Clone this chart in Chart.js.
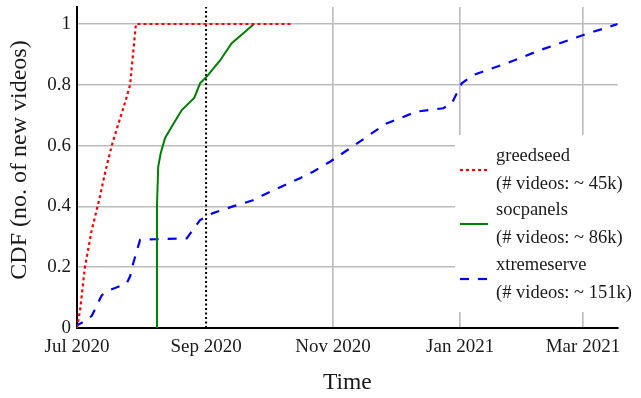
<!DOCTYPE html>
<html>
<head>
<meta charset="utf-8">
<script src="https://cdn.jsdelivr.net/npm/chart.js@4.4.1/dist/chart.umd.min.js"></script>
<style>
  html, body { margin: 0; padding: 0; background: #fff; }
  #wrap { width: 641px; height: 398px; }
</style>
</head>
<body>
<div id="wrap"><canvas id="cdfChart"></canvas></div>
<script>
// x values are days since 1 Jul 2020
const xTickDays = [0, 62, 123, 184, 243];
const xTickLabels = ['Jul 2020', 'Sep 2020', 'Nov 2020', 'Jan 2021', 'Mar 2021'];
const yTicks = [0, 0.2, 0.4, 0.6, 0.8, 1];
const yTickLabels = ['0', '0.2', '0.4', '0.6', '0.8', '1'];

const greedDays = [0, 1.5, 3.8, 7, 10.6, 13.8, 16.7, 19.8, 23, 25.5, 28.3, 103.7];
const greedCdf  = [0, 0.06, 0.2, 0.32, 0.42, 0.52, 0.6, 0.67, 0.74, 0.8, 1.0, 1.0];

const socDays = [38.3, 38.4, 39.0, 40.2, 42.3, 46.2, 50.3, 56.3, 59.1, 62.3, 68.7, 74.3, 79.9, 85.0];
const socCdf  = [0, 0.4, 0.53, 0.575, 0.625, 0.67, 0.717, 0.757, 0.805, 0.827, 0.88, 0.937, 0.97, 1.0];

const xtremeDays = [0, 0.2, 2.3, 7.1, 11.9, 15.9, 23.9, 25.5, 27, 30.3, 37.5, 52.7, 59.1, 65.3, 74.9, 84.5,
                    89.3, 98.9, 107.1, 113.4, 121.5, 133.5, 141.5, 148.7, 163.2, 175.9, 180, 184.8, 190.2,
                    206.4, 222.4, 243.2, 259.7];
const xtremeCdf  = [0, 0.01, 0.017, 0.04, 0.108, 0.125, 0.147, 0.17, 0.213, 0.29, 0.292, 0.295, 0.355, 0.378, 0.40, 0.42,
                    0.437, 0.467, 0.493, 0.514, 0.547, 0.602, 0.64, 0.673, 0.712, 0.723, 0.739, 0.805, 0.832,
                    0.871, 0.914, 0.964, 1.0];

const seriesNames = ['greedseed', 'socpanels', 'xtremeserve'];
const seriesNotes = ['(# videos: ~ 45k)', '(# videos: ~ 86k)', '(# videos: ~ 151k)'];

const markerDay = 62; // 1 Sep 2020
const yMax = 1.056;
const xMax = 259.7;

const SERIF = '"Liberation Serif", "DejaVu Serif", serif';
const INK = '#1a1a1a';

function toPoints(xs, ys) {
    return xs.map((x, i) => ({ x: x, y: ys[i] }));
}

// legend with two lines per entry on a white box over the grid, plus the y title
const legendBox = {
    id: 'legendBox',
    afterDatasetsDraw(chart) {
        const ctx = chart.ctx;
        ctx.save();
        ctx.fillStyle = '#fff';
        ctx.fillRect(455, 135, 186, 177);
        const tops = [156, 210, 265];
        ctx.font = '18.5px ' + SERIF;
        ctx.textBaseline = 'middle';
        ctx.textAlign = 'left';
        for (let i = 0; i < 3; i++) {
            const ds = chart.data.datasets[i];
            const y = tops[i];
            ctx.fillStyle = INK;
            ctx.fillText(seriesNames[i], 496, y);
            ctx.fillText(seriesNotes[i], 496, y + 28);
            ctx.strokeStyle = ds.borderColor;
            ctx.lineWidth = ds.borderWidth;
            ctx.setLineDash(ds.borderDash || []);
            ctx.beginPath();
            ctx.moveTo(460, y + 14);
            ctx.lineTo(488, y + 14);
            ctx.stroke();
        }
        ctx.setLineDash([]);
        ctx.translate(20, 160);
        ctx.rotate(-Math.PI / 2);
        ctx.textAlign = 'center';
        ctx.font = '24px ' + SERIF;
        ctx.fillText('CDF (no. of new videos)', 0, 0);
        ctx.restore();
    }
};

document.addEventListener('DOMContentLoaded', function () {
    const ctx = document.getElementById('cdfChart').getContext('2d');
    new Chart(ctx, {
        type: 'line',
        data: {
            datasets: [{
                label: seriesNames[0],
                data: toPoints(greedDays, greedCdf),
                borderColor: '#ff0000',
                borderWidth: 2.2,
                borderDash: [3, 3]
            }, {
                label: seriesNames[1],
                data: toPoints(socDays, socCdf),
                borderColor: '#008000',
                borderWidth: 2
            }, {
                label: seriesNames[2],
                data: toPoints(xtremeDays, xtremeCdf),
                borderColor: '#0000ff',
                borderWidth: 2.2,
                borderDash: [9, 9]
            }, {
                label: 'marker',
                data: [{ x: markerDay, y: 0 }, { x: markerDay, y: yMax }],
                borderColor: '#000',
                borderWidth: 2,
                borderDash: [2, 2.5]
            }]
        },
        options: {
            responsive: true,
            maintainAspectRatio: false,
            animation: false,
            layout: { padding: { top: 7, right: 23.3, left: 0, bottom: 0 } },
            elements: {
                point: { radius: 0 },
                line: { tension: 0, fill: false }
            },
            plugins: {
                legend: { display: false },
                tooltip: { enabled: false }
            },
            scales: {
                x: {
                    type: 'linear',
                    min: 0,
                    max: xMax,
                    afterFit: s => { s.height = 70; s.paddingLeft = 0; s.paddingRight = 0; },
                    afterBuildTicks: s => { s.ticks = xTickDays.map(v => ({ value: v })); },
                    border: { color: '#000', width: 2 },
                    grid: {
                        drawTicks: false,
                        lineWidth: 1.6,
                        color: c => (c.index >= 2 ? '#bbbbbb' : 'rgba(0,0,0,0)')
                    },
                    ticks: {
                        autoSkip: false,
                        maxRotation: 0,
                        padding: 8,
                        color: INK,
                        font: { family: SERIF, size: 19 },
                        callback: (v, i) => xTickLabels[i]
                    },
                    title: {
                        display: true,
                        text: 'Time',
                        color: INK,
                        font: { family: SERIF, size: 23.5 },
                        padding: { top: 0, bottom: 1 }
                    }
                },
                y: {
                    min: 0,
                    max: yMax,
                    afterFit: s => { s.width = 77; s.paddingTop = 0; s.paddingBottom = 0; },
                    afterBuildTicks: s => { s.ticks = yTicks.map(v => ({ value: v })); },
                    border: { color: '#000', width: 2 },
                    grid: {
                        drawTicks: false,
                        lineWidth: 1.6,
                        color: c => (c.index >= 1 ? '#bbbbbb' : 'rgba(0,0,0,0)')
                    },
                    ticks: {
                        padding: 6,
                        color: INK,
                        font: { family: SERIF, size: 19 },
                        callback: (v, i) => yTickLabels[i]
                    }
                }
            }
        },
        plugins: [legendBox]
    });
});
</script>
</body>
</html>
